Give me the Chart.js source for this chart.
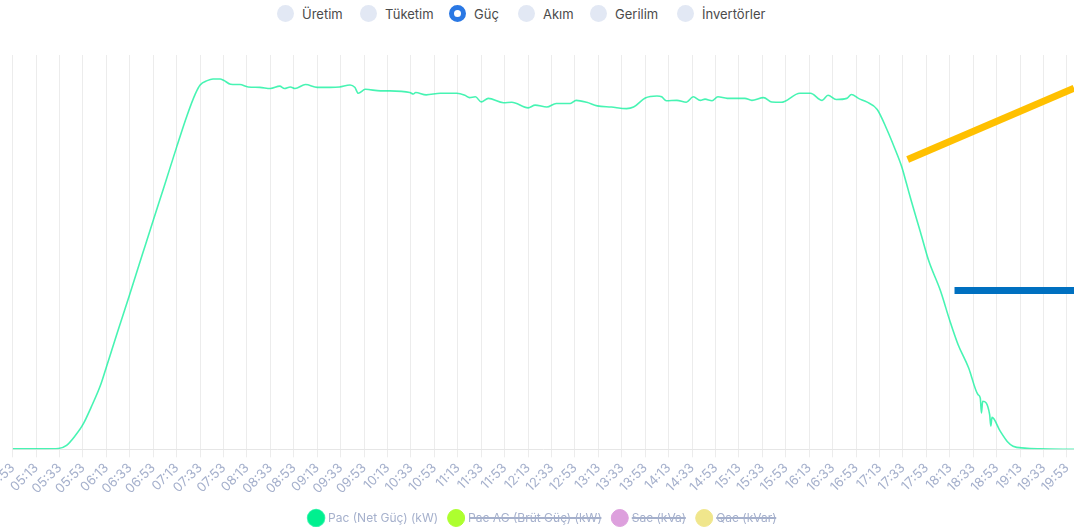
<!DOCTYPE html>
<html>
<head>
<meta charset="utf-8">
<script src="https://cdn.jsdelivr.net/npm/chart.js@4.4.1/dist/chart.umd.min.js"></script>
<style>
  html, body { margin: 0; padding: 0; background: #ffffff; width: 1074px; height: 527px; overflow: hidden; }
  .radio { position: absolute; top: 5px; height: 17px; display: flex; align-items: center; font-family: Inter, "Open Sans", sans-serif; font-size: 13px; color: #4b4b4b; white-space: nowrap; }
  .radio .dot { width: 17px; height: 17px; border-radius: 50%; background: #e2e8f4; margin-right: 8px; box-sizing: border-box; flex: none; }
  .radio .dot.on { background: #ffffff; border: 5.5px solid #2a78e4; }
  #wrap { position: absolute; left: 0; top: 40px; width: 1074px; height: 494px; }
</style>
</head>
<body>
<div class="radio" style="left:277px"><span class="dot"></span>Üretim</div>
<div class="radio" style="left:360px"><span class="dot"></span>Tüketim</div>
<div class="radio" style="left:449px"><span class="dot on"></span>Güç</div>
<div class="radio" style="left:518px"><span class="dot"></span>Akım</div>
<div class="radio" style="left:590px"><span class="dot"></span>Gerilim</div>
<div class="radio" style="left:677px"><span class="dot"></span>İnvertörler</div>
<div id="wrap"><canvas id="c"></canvas></div>
<script>
// ---- data ----
const START_TIME = "04:53";
const END_TIME = "19:59";
const TICK_STEP_MIN = 20;

const pacTimes = ["04:53","05:08","05:21","05:32","05:39","05:46","05:53","06:00","06:08","06:13","06:22","06:33","06:44","06:53","07:02","07:13","07:22","07:29","07:33","07:39","07:44","07:50","07:53","07:59","08:07","08:14","08:24","08:33","08:41","08:45","08:50","08:54","09:03","09:13","09:24","09:32","09:41","09:45","09:48","09:54","10:07","10:15","10:32","10:35","10:37","10:46","10:58","11:12","11:19","11:23","11:28","11:33","11:39","11:52","11:59","12:13","12:19","12:29","12:37","12:49","12:54","13:03","13:12","13:24","13:37","13:43","13:53","14:03","14:07","14:11","14:20","14:28","14:34","14:40","14:44","14:50","14:55","15:03","15:18","15:24","15:34","15:41","15:49","16:05","16:14","16:24","16:29","16:36","16:45","16:49","16:55","17:02","17:11","17:19","17:26","17:32","17:36","17:40","17:48","17:55","18:05","18:13","18:20","18:29","18:37","18:39","18:40","18:41","18:47","18:48","18:49","18:56","19:02","19:07","19:17","19:30","19:59"];
const pacValues = [1,1,1,2,10,33,63,107,163,209,293,394,497,581,664,767,848,902,924,935,939,939,936,926,925,919,918,915,921,915,919,915,925,918,918,919,924,918,903,913,909,909,905,901,905,899,903,903,898,892,894,881,890,879,880,866,873,868,877,877,885,880,871,868,864,868,891,896,894,884,885,880,894,885,888,884,894,890,890,885,892,881,880,903,903,885,898,887,890,900,890,881,862,813,763,716,674,631,550,478,402,326,266,207,139,130,92,122,88,59,81,46,20,8,3,1,0];

const pacAgValues = [];
const sacValues = [];
const qacValues = [];

const seriesNames = ["Pac (Net Güç) (kW)", "Pac AG (Brüt Güç) (kW)", "Sac (kVa)", "Qac (kVar)"];

// overlay marker strokes seen on the picture
const yellowTimes = ["17:37","19:59"];
const yellowValues = [735, 916];
const blueTimes = ["18:17","19:59"];
const blueValues = [403, 403];

const Y_MAX = 1000;

// ---- helpers ----
function toMin(t){ const p = t.split(":"); return (+p[0])*60 + (+p[1]); }
const base = toMin(START_TIME);
function pts(times, values){ return times.map((t,i)=>({x: toMin(t)-base, y: values[i]})); }
function fmt(off){ const m = base + off; const h = Math.floor(m/60), mm = m%60; return String(h).padStart(2,"0")+":"+String(mm).padStart(2,"0"); }

const tickColor = "#a5b0cc";
const fontFam = "Inter, 'Open Sans', sans-serif";

new Chart(document.getElementById("c"), {
  type: "line",
  data: {
    datasets: [
      { label: seriesNames[0], data: pts(pacTimes, pacValues), borderColor: "rgba(0,240,150,0.72)", backgroundColor: "#00f08f", borderWidth: 1.6, pointRadius: 0, cubicInterpolationMode: "monotone" },
      { label: seriesNames[1], data: pacAgValues, borderColor: "#adff2f", backgroundColor: "#adff2f", hidden: true, pointRadius: 0 },
      { label: seriesNames[2], data: sacValues, borderColor: "#dda0dd", backgroundColor: "#dda0dd", hidden: true, pointRadius: 0 },
      { label: seriesNames[3], data: qacValues, borderColor: "#f0e68c", backgroundColor: "#f0e68c", hidden: true, pointRadius: 0 },
      { label: "_yellow", data: pts(yellowTimes, yellowValues), borderColor: "#ffc000", borderWidth: 7, pointRadius: 0, tension: 0, borderCapStyle: "butt" },
      { label: "_blue", data: pts(blueTimes, blueValues), borderColor: "#0070c0", borderWidth: 7, pointRadius: 0, tension: 0, borderCapStyle: "butt" }
    ]
  },
  options: {
    responsive: true,
    maintainAspectRatio: false,
    animation: false,
    layout: { padding: { left: 12.7, right: 0, top: 15, bottom: 0 } },
    plugins: {
      tooltip: { enabled: false },
      legend: {
        position: "bottom",
        labels: {
          usePointStyle: true,
          pointStyle: "circle",
          color: tickColor,
          font: { family: fontFam, size: 12 },
          padding: 12,
          sort: (a, b) => a.datasetIndex - b.datasetIndex,
          filter: (item) => !item.text.startsWith("_")
        }
      }
    },
    scales: {
      x: {
        type: "linear",
        min: 0,
        max: toMin(END_TIME) - base,
        afterFit: (s) => { s.paddingLeft = 0; s.paddingRight = 0; },
        grid: { color: "#ececec", lineWidth: 1, tickLength: 8, drawOnChartArea: true },
        border: { display: true, color: "#e6e6e6" },
        ticks: {
          stepSize: TICK_STEP_MIN,
          includeBounds: false,
          autoSkip: false,
          minRotation: 45,
          maxRotation: 45,
          color: tickColor,
          font: { family: fontFam, size: 13 },
          callback: (v) => fmt(v)
        }
      },
      y: { display: false, min: 0, max: Y_MAX }
    }
  }
});
</script>
</body>
</html>
